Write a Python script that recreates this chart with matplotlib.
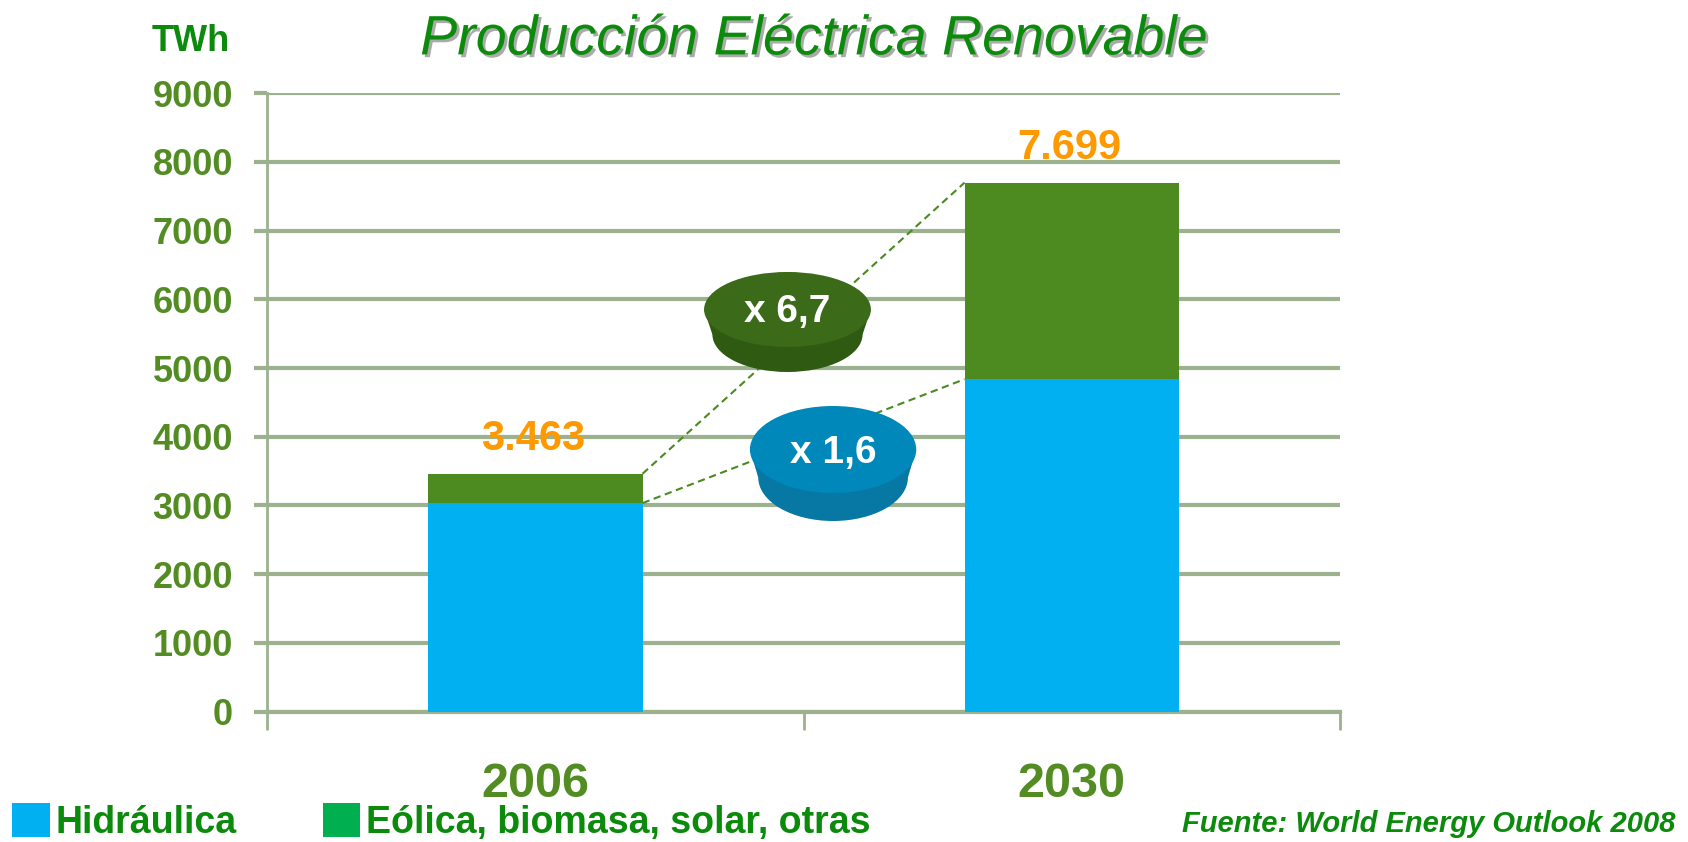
import matplotlib
matplotlib.use("Agg")
from matplotlib import pyplot as plt
from matplotlib.patches import Ellipse, Polygon, Patch
import matplotlib.patheffects as pe

# Datos ----------------------------------------------------------------------------
anios = ["2006", "2030"]
hidraulica = [3035, 4838]
otras = [428, 2861]
etiquetas_total = ["3.463", "7.699"]
yticks = [0, 1000, 2000, 3000, 4000, 5000, 6000, 7000, 8000, 9000]

plt.rcParams['font.family'] = ['Liberation Sans', 'DejaVu Sans']

AZUL = '#00b0f0'
VERDE_BAR = '#4d8a1f'
VERDE_TXT = '#0b8a0b'
VERDE_EJE = '#548c24'
GRID = '#9cb18e'
NARANJA = '#ff9900'


def disco(ax, x, y, w, h, prof, c_top, c_side, texto):
    # cara lateral (cilindro que se estrecha) + cara superior
    ax.add_patch(Ellipse((x, y - prof), w * 0.9, h, facecolor=c_side,
                         edgecolor='none', zorder=5))
    ax.add_patch(Polygon([(x - w / 2, y), (x + w / 2, y),
                          (x + w * 0.45, y - prof), (x - w * 0.45, y - prof)],
                         closed=True, facecolor=c_side, edgecolor='none', zorder=5))
    ax.add_patch(Ellipse((x, y), w, h, facecolor=c_top, edgecolor='none', zorder=6))
    ax.text(x, y - h * 0.04, texto, color='white', fontsize=28, fontweight='bold',
            ha='center', va='center', zorder=7)


def grafico():
    fig = plt.figure(figsize=(16.88, 8.42), dpi=100)
    ax = fig.add_axes([0.1582, 0.1549, 0.6357, 0.7343])

    xs = [i for i, _ in enumerate(anios)]
    totales = [h + o for h, o in zip(hidraulica, otras)]
    ancho = 0.4

    ax.bar(xs, hidraulica, width=ancho, color=AZUL, zorder=3)
    ax.bar(xs, otras, width=ancho, bottom=hidraulica, color=VERDE_BAR, zorder=3)

    for x, t, lab in zip(xs, totales, etiquetas_total):
        ax.text(x - 0.005, t + 220, lab, color=NARANJA, fontsize=30, fontweight='bold',
                ha='center', va='bottom', zorder=4)

    # lineas discontinuas entre barras
    ax.plot([xs[0] + ancho / 2, xs[1] - ancho / 2], [totales[0], totales[1]],
            ls=(0, (3.5, 2.2)), color='#4a8a20', lw=1.5, zorder=2)
    ax.plot([xs[0] + ancho / 2, xs[1] - ancho / 2], [hidraulica[0], hidraulica[1]],
            ls=(0, (3.5, 2.2)), color='#4a8a20', lw=1.5, zorder=2)

    f_otras = otras[1] / otras[0]
    f_hidr = hidraulica[1] / hidraulica[0]
    disco(ax, 0.470, 5853, 0.311, 1092, 364, '#3b6a18', '#2f5a12',
          ("x %.1f" % f_otras).replace('.', ','))
    disco(ax, 0.555, 3815, 0.310, 1266, 408, '#0088ba', '#0777a4',
          ("x %.1f" % f_hidr).replace('.', ','))

    ax.set_xlim(-0.5, 1.5)
    ax.set_ylim(0, 9000)
    ax.set_yticks(yticks)
    ax.set_yticklabels([str(v) for v in yticks])
    ax.yaxis.grid(True, color=GRID, lw=3, zorder=0)
    ax.tick_params(axis='y', length=9.5, width=3, color=GRID, pad=15,
                   labelsize=26, labelcolor=VERDE_EJE)
    for lab in ax.get_yticklabels():
        lab.set_fontweight('bold')

    ax.set_xticks(xs)
    ax.set_xticklabels(anios, fontsize=35, fontweight='bold', color=VERDE_EJE)
    ax.set_xticks([-0.5, 0.5, 1.5], minor=True)
    ax.tick_params(axis='x', which='major', length=0, pad=36)
    ax.tick_params(axis='x', which='minor', length=13, width=2, color=GRID)

    for s in ['top', 'right']:
        ax.spines[s].set_visible(False)
    ax.spines['left'].set_color(GRID)
    ax.spines['left'].set_linewidth(2)
    ax.spines['bottom'].set_color(GRID)
    ax.spines['bottom'].set_linewidth(3)

    fig.text(0.482, 0.952, "Producción Eléctrica Renovable", color=VERDE_TXT,
             fontsize=40, style='italic', ha='center', va='center',
             path_effects=[pe.withSimplePatchShadow(offset=(2, -2), shadow_rgbFace='#aaaaaa', alpha=1)])
    fig.text(230 / 1688, 0.951, "TWh", color=VERDE_TXT, fontsize=26,
             fontweight='bold', ha='right', va='center')

    handles = [Patch(facecolor=AZUL), Patch(facecolor='#00b050')]
    fig.legend(handles, ["Hidráulica", "Eólica, biomasa, solar, otras"],
               loc='lower left', bbox_to_anchor=(12 / 1688, 1 / 842), ncol=2,
               frameon=False, handlelength=1.0, handleheight=1.0,
               handletextpad=0.15, columnspacing=2.3, borderpad=0, borderaxespad=0,
               prop={'size': 27, 'weight': 'bold'}, labelcolor=VERDE_TXT)

    fig.text(1676 / 1688, 0.021, "Fuente: World Energy Outlook 2008", color=VERDE_TXT,
             fontsize=21, style='italic', fontweight='bold', ha='right', va='center')

    fig.savefig('out.png', dpi=100)


def main():
    grafico()


if __name__ == '__main__':
    main()
